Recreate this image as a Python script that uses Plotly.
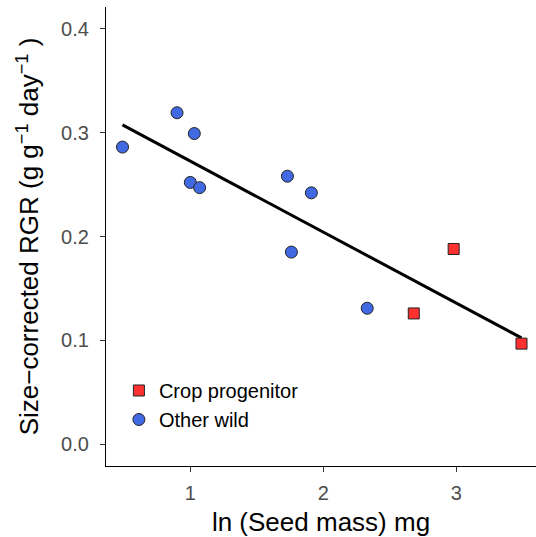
import numpy as np
import plotly.graph_objects as go

# Data (ln seed mass in mg, size-corrected RGR)
wild_x = [0.49, 0.90, 1.03, 1.00, 1.07, 1.73, 1.91, 1.76, 2.33]
wild_y = [0.286, 0.319, 0.299, 0.252, 0.247, 0.258, 0.242, 0.185, 0.131]
crop_x = [2.98, 2.68, 3.49]
crop_y = [0.188, 0.126, 0.097]

x_ticks = [1, 2, 3]
y_ticks = [0.0, 0.1, 0.2, 0.3, 0.4]
y_tick_labels = ["0.0", "0.1", "0.2", "0.3", "0.4"]

all_x = np.array(wild_x + crop_x)
all_y = np.array(wild_y + crop_y)
slope, intercept = np.polyfit(all_x, all_y, 1)
fit_x = np.array([all_x.min(), all_x.max()])
fit_y = slope * fit_x + intercept

FONT = "Liberation Sans, Arial, sans-serif"

fig = go.Figure()
fig.add_trace(go.Scatter(
    x=fit_x, y=fit_y, mode="lines",
    line=dict(color="black", width=3), showlegend=False, hoverinfo="skip"))
fig.add_trace(go.Scatter(
    x=crop_x, y=crop_y, mode="markers", name="Crop progenitor",
    marker=dict(symbol="square", size=11, color="#FF3030",
                line=dict(color="#222222", width=1))))
fig.add_trace(go.Scatter(
    x=wild_x, y=wild_y, mode="markers", name="Other wild",
    marker=dict(symbol="circle", size=12, color="#4169E1",
                line=dict(color="#222222", width=1))))

axis_common = dict(
    showgrid=False, zeroline=False, showline=True, linecolor="black", linewidth=1.2,
    ticks="outside", ticklen=5, tickcolor="#333333", tickwidth=1,
    tickfont=dict(family=FONT, size=20, color="#4d4d4d"),
    automargin=False,
)

fig.update_layout(
    width=536, height=537,
    margin=dict(l=106, r=0, t=7, b=71),
    paper_bgcolor="white", plot_bgcolor="white",
    font=dict(family=FONT, color="black"),
    xaxis=dict(range=[0.366, 3.599], tickvals=x_ticks, ticklabelstandoff=4,
               title=dict(text="ln (Seed mass) mg", font=dict(size=26, family=FONT), standoff=12),
               **axis_common),
    yaxis=dict(range=[-0.0207, 0.4207], tickvals=y_ticks, ticktext=y_tick_labels,
               ticklabelstandoff=7,
               title=dict(text="Size\u2212corrected RGR (g g<sup>\u22121</sup> day<sup>\u22121</sup> )",
                          font=dict(size=26, family=FONT), standoff=14),
               **axis_common),
    legend=dict(x=0.03, y=0.207, xanchor="left", yanchor="top",
                font=dict(size=20, family=FONT, color="black"),
                bgcolor="rgba(0,0,0,0)", tracegroupgap=0),
)

fig.write_html("out.html", config={"displayModeBar": False},
               post_script="document.body.style.margin='0px';")
